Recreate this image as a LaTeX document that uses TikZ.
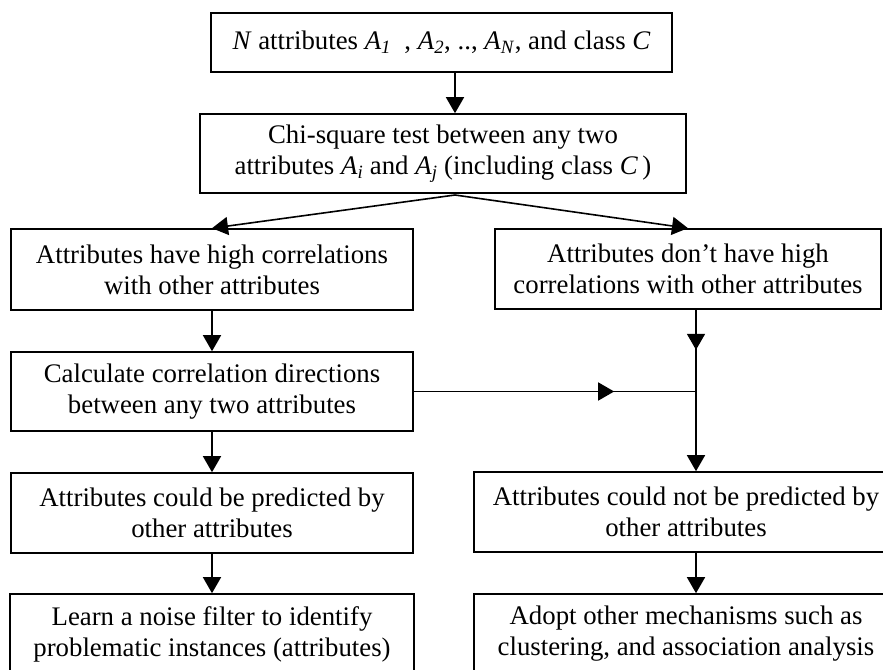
\documentclass[tikz,border=0pt]{standalone}
\usepackage{fontspec}
\setmainfont{Liberation Serif}
\usetikzlibrary{arrows.meta,decorations.markings}
\newcommand{\attrib}[2]{\textit{#1}\textsubscript{\textit{#2}}}
\tikzset{
    box/.style={draw, line width=1.6pt, align=center, inner sep=0pt, font=\fontsize{26.8}{31}\selectfont},
    arr/.style={line width=1.6pt, -{Triangle[length=16pt,width=18pt]}},
    midarr/.style={line width=1.6pt, postaction={decorate},
        decoration={markings, mark=at position #1 with {\arrow{Triangle[length=16pt,width=18pt]}}}},
}
\begin{document}
\begin{tikzpicture}[x=1pt, y=-1pt]
    \useasboundingbox (0,0) rectangle (883,669);
    \clip (0,0) rectangle (883,669);
    \node[box, minimum width=461, minimum height=59] (inp) at (441.5,42.5) {\textit{N} attributes \attrib{A}{1}\enspace, \attrib{A}{2}, .., \attrib{A}{N}, and class \textit{C}};
    \node[box, minimum width=486, minimum height=79] (chi) at (443,153.5) {Chi-square test between any two\\ attributes \attrib{A}{i} and \attrib{A}{j} (including class \textit{C}\,)};
    \node[box, minimum width=402, minimum height=81] (hi) at (212,269.5) {Attributes have high correlations\\ with other attributes};
    \node[box, minimum width=386, minimum height=80] (lo) at (688,269) {Attributes don't have high\\ correlations with other attributes};
    \node[box, minimum width=402, minimum height=79] (calc) at (212,391.5) {Calculate correlation directions\\ between any two attributes};
    \node[box, minimum width=402, minimum height=80] (canpred) at (212,513) {Attributes could be predicted by\\ other attributes};
    \node[box, minimum width=424, minimum height=80] (nopred) at (686,512) {Attributes could not be predicted by\\ other attributes};
    \node[box, minimum width=404, minimum height=80] (learn) at (212,634) {Learn a noise filter to identify\\ problematic instances (attributes)};
    \node[box, minimum width=424, minimum height=80] (adopt) at (686,634) {Adopt other mechanisms such as\\ clustering, and association analysis};
    \coordinate (split) at (455,195);
    \coordinate (join) at (696,391.5);
    % top part
    \draw[arr] (inp.south -| split) -- (chi.north -| split);
    \draw[arr] (split) -- (hi.north);
    \draw[arr] (split) -- (lo.north);
    % left column
    \draw[arr] (hi.south) -- (calc.north);
    \draw[arr] (calc.south) -- (canpred.north);
    \draw[arr] (canpred.south) -- (learn.north);
    % right column
    \draw[midarr=0.71] (calc.east) -- (join);
    \draw[midarr=0.49] (lo.south -| join) -- (join);
    \draw[arr] (join) -- (nopred.north -| join);
    \draw[arr] (nopred.south -| join) -- (adopt.north -| join);
\end{tikzpicture}
\end{document}
